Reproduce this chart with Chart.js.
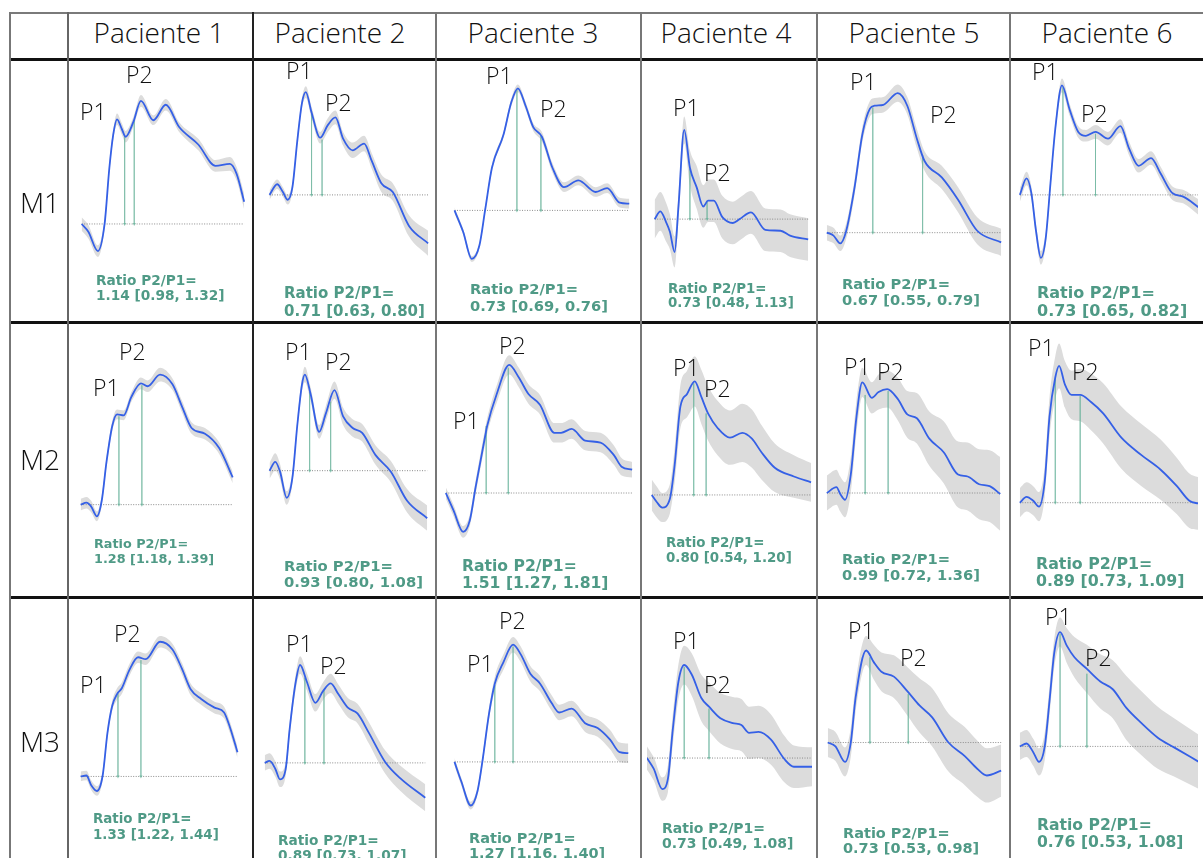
<!DOCTYPE html>
<html>
<head>
<meta charset="utf-8">
<script src="https://cdn.jsdelivr.net/npm/chart.js@4.4.0/dist/chart.umd.min.js"></script>
<style>
  body { margin: 0; background: #fff; width: 1203px; height: 858px; overflow: hidden; position: relative; font-family: 'Open Sans', sans-serif; }
  .abs { position: absolute; }
  .hdr { font-weight: 300; font-size: 28px; color: #111; line-height: 1; white-space: nowrap; }
  .pk { font-weight: 300; font-size: 23px; color: #111; line-height: 1; white-space: nowrap; }
  .ratio { font-family: 'DejaVu Sans', sans-serif; font-weight: bold; color: #4f9a86; white-space: pre; }
</style>
</head>
<body>
<script>
// categories
const patients = ['Paciente 1', 'Paciente 2', 'Paciente 3', 'Paciente 4', 'Paciente 5', 'Paciente 6'];
const measures = ['M1', 'M2', 'M3'];

// mean waveform per panel: [time, amplitude, band half-width] (a.u., baseline = 0)
const m1p1 = [[0,0,7],[7,-8,7],[17,-28,6],[24,0,5],[29,58,5],[33,92,5],[37,108,6],[42,98,6],[46,90,6],[54,105,5],[62,127,6],[75,107,5],[88,123,6],[102,100,5],[122,82,6],[140,60,6],[155,62,7],[162,52,7],[170,23,8]];
const m1p2 = [[0,0,5],[8,11,5],[14,3,5],[19,-5,5],[24,8,5],[29,55,5],[34,95,5],[38,106,6],[44,85,6],[53,59,6],[61,72,7],[69,80,7],[77,58,7],[87,46,8],[99,53,8],[107,35,8],[117,12,9],[129,3,9],[146,-32,11],[166,-50,13]];
const m1p3 = [[0,0,3],[9,-22,3],[18,-50,3],[26,-36,3],[32,1,3],[39,44,3],[51,78,3],[59,111,4],[66,126,4],[74,108,4],[82,86,4],[91,76,5],[102,44,5],[114,24,5],[129,31,5],[147,19,5],[159,23,5],[172,8,5],[182,7,5]];
const m1p4 = [[0,0,20],[6,8,20],[12,-3,20],[16,-13,18],[21,-34,16],[25,13,14],[31,92,14],[37,53,18],[44,33,22],[51,13,22],[56,19,22],[62,19,22],[71,2,22],[82,-4,22],[89,0,22],[101,7,22],[116,-11,22],[132,-12,22],[142,-17,22],[161,-21,22]];
const m1p5 = [[0,0,8],[7,-3,8],[14,-11,8],[20,1,8],[29,47,8],[37,101,8],[45,128,8],[50,131,8],[59,132,8],[74,144,9],[84,131,9],[94,97,10],[102,74,10],[120,57,12],[137,34,13],[157,2,14],[182,-10,14]];
const m1p6 = [[0,0,7],[7,17,7],[12,2,7],[17,-38,7],[22,-65,7],[27,-45,7],[32,12,6],[37,68,6],[44,113,7],[52,88,6],[61,65,6],[69,61,6],[79,65,7],[92,58,7],[105,71,7],[114,48,7],[124,30,7],[137,38,7],[147,22,7],[159,2,7],[171,-2,7],[187,-13,8]];

const m2p1 = [[0,0,6],[6,2,6],[11,-2,6],[17,-12,5],[22,4,5],[27,44,5],[33,81,5],[38,93,5],[45,92,5],[53,111,5],[63,125,6],[70,122,6],[83,134,7],[96,124,6],[106,101,6],[116,79,6],[130,73,6],[145,58,6],[159,28,6]];
const m2p2 = [[0,0,8],[6,9,9],[11,-1,8],[18,-28,7],[24,-7,6],[29,46,6],[34,89,7],[37,99,8],[43,79,7],[52,40,7],[59,59,8],[68,83,9],[77,56,9],[87,44,9],[97,39,9],[111,16,10],[127,-1,11],[144,-31,12],[165,-49,13]];
const m2p3 = [[0,0,6],[8,-18,6],[18,-40,6],[25,-28,6],[31,6,7],[41,59,8],[43,69,8],[53,102,9],[66,132,10],[76,119,10],[86,102,10],[98,91,10],[113,62,10],[120,62,10],[131,66,10],[145,54,10],[161,52,10],[175,39,10],[183,27,9],[194,24,8]];
const m2p4 = [[0,0,16],[5,-7,16],[11,-13,15],[19,-4,15],[24,31,18],[30,91,22],[37,104,24],[45,117,26],[52,101,28],[59,84,28],[69,69,28],[82,59,28],[95,64,30],[105,58,30],[115,44,28],[129,28,25],[149,19,22],[167,13,20]];
const m2p5 = [[0,0,18],[10,6,18],[14,-1,18],[19,-7,18],[25,19,18],[31,79,17],[37,114,15],[47,98,16],[54,104,18],[63,107,19],[74,97,22],[84,81,24],[94,77,26],[107,56,28],[122,42,32],[137,19,34],[147,17,35],[159,9,36],[170,7,37],[181,-1,38]];
const m2p6 = [[0,0,15],[7,6,15],[14,2,15],[20,-4,15],[26,22,16],[31,89,20],[37,129,22],[41,141,23],[47,122,24],[54,111,25],[63,111,27],[74,104,29],[87,92,31],[106,67,32],[127,49,32],[147,34,31],[164,17,29],[177,2,28],[187,-1,27]];

const m3p1 = [[0,0,5],[6,1,5],[11,-9,5],[17,-15,5],[23,1,5],[28,45,5],[33,73,5],[38,85,6],[43,91,6],[51,110,6],[60,123,6],[68,121,6],[83,139,6],[96,131,6],[106,111,6],[115,90,6],[126,80,6],[140,71,6],[150,66,6],[156,51,6],[164,25,6]];
const m3p2 = [[0,0,8],[5,2,8],[11,-6,8],[16,-17,8],[22,-6,7],[26,34,7],[32,81,8],[37,101,9],[44,84,9],[53,62,9],[61,74,9],[69,82,10],[77,71,10],[87,57,10],[97,51,10],[109,31,11],[126,1,12],[142,-16,13],[168,-36,14]];
const m3p3 = [[0,0,4],[7,-20,4],[17,-45,4],[24,-30,4],[29,0,5],[36,50,6],[42,81,7],[51,103,8],[61,121,8],[69,111,8],[79,91,8],[89,81,8],[101,61,8],[109,51,8],[122,55,8],[136,40,9],[149,35,9],[162,23,10],[172,10,10],[181,9,10]];
const m3p4 = [[0,0,12],[7,-11,12],[16,-32,12],[22,-21,14],[27,29,16],[33,79,18],[39,96,20],[47,86,22],[57,62,24],[65,53,25],[77,41,26],[90,36,27],[99,34,27],[107,26,27],[117,27,27],[130,19,26],[144,-1,24],[154,-9,22],[174,-9,20]];
const m3p5 = [[0,0,15],[8,-4,15],[18,-20,15],[24,0,15],[29,46,15],[40,95,15],[48,83,18],[56,73,20],[69,68,22],[83,53,25],[96,38,28],[109,26,30],[126,0,30],[143,-14,30],[156,-27,29],[166,-34,28],[181,-29,27]];
const m3p6 = [[0,0,14],[7,3,14],[14,-6,14],[20,-16,14],[26,0,14],[31,47,15],[36,97,15],[42,118,15],[49,104,18],[57,92,21],[70,80,25],[84,67,28],[97,59,30],[111,40,33],[127,24,33],[144,9,32],[161,-1,30],[187,-16,28]];

// P1 / P2 markers: [tP1, ampP1, tP2, ampP2]
const m1Peaks = [[45,91,55,107],[44,86,55,57],[65,125,90,77],[37,52,55,18],[48,129,100,80],[45,111,79,63]];
const m2Peaks = [[40,91,64,123],[42,81,64,71],[42,69,65,129],[44,115,57,84],[40,101,64,105],[37,127,63,110]];
const m3Peaks = [[39,86,63,120],[42,88,62,75],[42,79,61,119],[39,94,65,51],[44,88,84,50],[42,116,70,75]];

// ratio P2/P1 [95% CI]
const m1Ratios = ['1.14 [0.98, 1.32]', '0.71 [0.63, 0.80]', '0.73 [0.69, 0.76]', '0.73 [0.48, 1.13]', '0.67 [0.55, 0.79]', '0.73 [0.65, 0.82]'];
const m2Ratios = ['1.28 [1.18, 1.39]', '0.93 [0.80, 1.08]', '1.51 [1.27, 1.81]', '0.80 [0.54, 1.20]', '0.99 [0.72, 1.36]', '0.89 [0.73, 1.09]'];
const m3Ratios = ['1.33 [1.22, 1.44]', '0.89 [0.73, 1.07]', '1.27 [1.16, 1.40]', '0.73 [0.49, 1.08]', '0.73 [0.53, 0.98]', '0.76 [0.53, 1.08]'];

const curves = [[m1p1, m1p2, m1p3, m1p4, m1p5, m1p6], [m2p1, m2p2, m2p3, m2p4, m2p5, m2p6], [m3p1, m3p2, m3p3, m3p4, m3p5, m3p6]];
const peaks = [m1Peaks, m2Peaks, m3Peaks];
const ratios = [m1Ratios, m2Ratios, m3Ratios];

// ---- layout (page pixels) ----
const colEdges = [68, 253, 436, 641, 817, 1010, 1203];
const rowEdges = [60, 322, 597, 858];
// curve start x and baseline y of each panel
const origins = [
  [[78,225],[266,195],[451,211],[651,220],[823,234],[1016,195]],
  [[77,506],[266,471],[442,494],[648,496],[823,494],[1016,504]],
  [[77,778],[261,764],[451,763],[643,759],[824,743],[1016,747]]
];
// P1 label left/centre-y, P2 label left/centre-y
const peakLabelPos = [
  [[82,112,128,75],[288,71,327,103],[488,76,542,109],[675,108,706,173],[852,82,932,115],[1034,72,1083,114]],
  [[95,388,121,352],[287,352,327,362],[455,421,501,346],[675,368,706,389],[846,367,879,372],[1030,348,1074,372]],
  [[82,685,116,634],[288,644,322,666],[469,664,501,621],[675,641,706,685],[850,631,902,658],[1047,617,1087,658]]
];
// ratio text left, line1 centre, line2 centre, font size
const ratioPos = [
  [[96,280,295,13.7],[284,293,311,15],[470,288,305,14.7],[668,289,303,13.4],[842,284,300,14.7],[1037,293,311,16]],
  [[94,543,558,12.8],[284,566,582,14.8],[462,566,583,15.6],[666,542,557,13.4],[842,559,575,14.7],[1036,563,580,15.8]],
  [[93,819,835,13.4],[278,840,855,13.7],[469,838,853,14.5],[662,828,843,14],[843,833,848,14.5],[1037,825,842,15.6]]
];

function addText(cls, text, left, top, extra) {
  const d = document.createElement('div');
  d.className = 'abs ' + cls;
  d.textContent = text;
  d.style.left = left + 'px';
  d.style.top = top + 'px';
  if (extra) Object.assign(d.style, extra);
  document.body.appendChild(d);
  return d;
}

function drawPanel(r, c) {
  const pts = curves[r][c];
  const [x0, yb] = origins[r][c];
  const left = colEdges[c] + 2, right = colEdges[c + 1] - 1;
  const top = rowEdges[r] + 2, bottom = rowEdges[r + 1] - 1;
  const cv = document.createElement('canvas');
  cv.width = right - left;
  cv.height = bottom - top;
  cv.style.cssText = `position:absolute;left:${left}px;top:${top}px;width:${right - left}px;height:${bottom - top}px;`;
  document.body.appendChild(cv);

  const mean = pts.map(p => ({ x: p[0], y: p[1] }));
  const upper = pts.map(p => ({ x: p[0], y: p[1] + p[2] }));
  const lower = pts.map(p => ({ x: p[0], y: p[1] - p[2] }));
  const tEnd = pts[pts.length - 1][0];
  const pk = peaks[r][c];

  const arrow = (t, v) => ({
    data: [{ x: t, y: v }, { x: t, y: 0 }],
    borderColor: 'rgba(105,180,155,0.5)',
    borderWidth: 1,
    pointRadius: [0, 2],
    pointStyle: 'triangle',
    pointRotation: 180,
    pointBackgroundColor: 'rgba(105,180,155,0.7)',
    pointBorderWidth: 0,
    order: 1
  });

  new Chart(cv, {
    type: 'line',
    data: {
      datasets: [
        { data: mean, borderColor: '#3560e6', borderWidth: 1.8, pointRadius: 0, cubicInterpolationMode: 'monotone', order: 0 },
        arrow(pk[0], pk[1]),
        arrow(pk[2], pk[3]),
        { data: [{ x: 0, y: 0 }, { x: tEnd, y: 0 }], borderColor: '#8c8c8c', borderWidth: 1, borderDash: [1, 1.5], pointRadius: 0, order: 2 },
        { data: upper, borderColor: 'rgba(0,0,0,0)', borderWidth: 0, pointRadius: 0, fill: '+1', backgroundColor: '#dcdcdc', cubicInterpolationMode: 'monotone', order: 3 },
        { data: lower, borderColor: 'rgba(0,0,0,0)', borderWidth: 0, pointRadius: 0, fill: false, cubicInterpolationMode: 'monotone', order: 4 }
      ]
    },
    options: {
      responsive: false,
      animation: false,
      events: [],
      layout: { padding: 0 },
      plugins: { legend: { display: false }, tooltip: { enabled: false } },
      scales: {
        x: { type: 'linear', display: false, min: left - x0, max: right - x0 },
        y: { type: 'linear', display: false, min: yb - bottom, max: yb - top }
      }
    }
  });

  const lp = peakLabelPos[r][c];
  addText('pk', 'P1', lp[0] - 2, lp[1] - 12);
  addText('pk', 'P2', lp[2] - 2, lp[3] - 12);

  const rp = ratioPos[r][c];
  const lh = rp[2] - rp[1];
  addText('ratio', 'Ratio P2/P1=\n' + ratios[r][c], rp[0], rp[1] - lh / 2, { fontSize: rp[3] + 'px', lineHeight: lh + 'px' });
}

for (let r = 0; r < measures.length; r++) {
  for (let c = 0; c < patients.length; c++) drawPanel(r, c);
}

// headers
const headerCentres = [159, 340, 533, 726, 914, 1107];
patients.forEach((p, i) => {
  addText('hdr', p, headerCentres[i] - 100, 18, { width: '200px', textAlign: 'center' });
});
const rowLabelCentres = [203, 460, 742];
measures.forEach((m, i) => {
  addText('hdr', m, 0, rowLabelCentres[i] - 15, { width: '80px', textAlign: 'center' });
});

// table rules
const rules = [
  [10, 12, 1193, 2, '#7a7a7a'],
  [10, 58, 1193, 3, '#111'],
  [10, 321, 1193, 3, '#111'],
  [10, 596, 1193, 3, '#111'],
  [9, 12, 2, 846, '#777'],
  [67, 12, 2, 846, '#666'],
  [252, 12, 1.5, 846, '#222'],
  [435, 12, 2, 846, '#777'],
  [640, 12, 2, 846, '#777'],
  [816, 12, 2, 846, '#777'],
  [1009, 12, 2, 846, '#777']
];
rules.forEach(([x, y, w, h, col]) => {
  const d = document.createElement('div');
  d.className = 'abs';
  Object.assign(d.style, { left: x + 'px', top: y + 'px', width: w + 'px', height: h + 'px', background: col });
  document.body.appendChild(d);
});
</script>
</body>
</html>
